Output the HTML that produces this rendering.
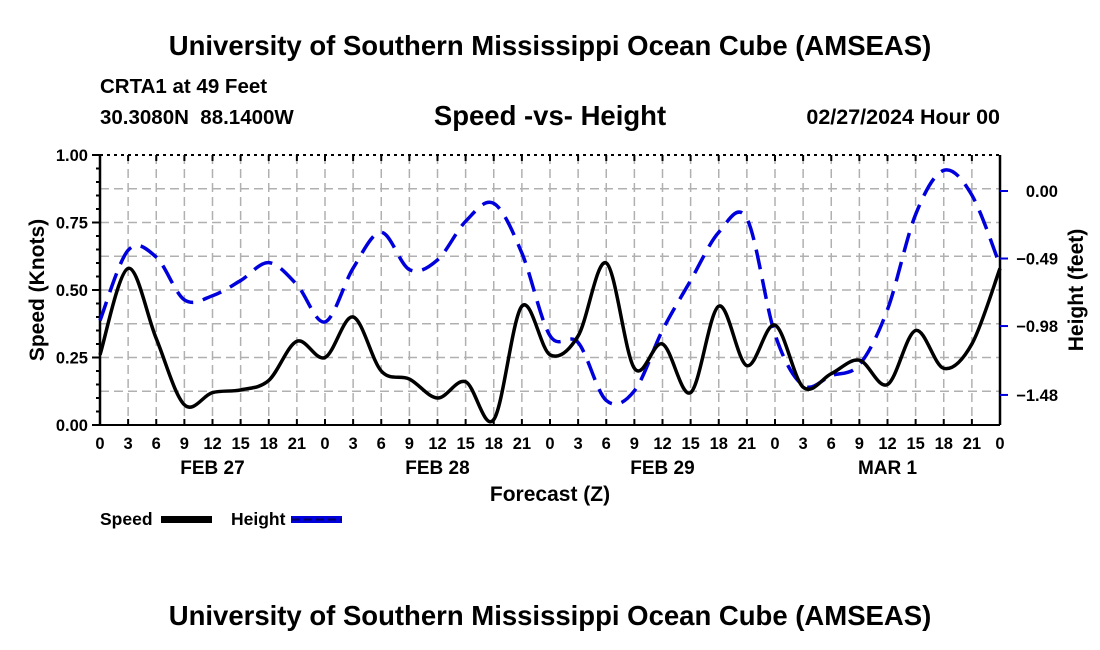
<!DOCTYPE html>
<html><head><meta charset="utf-8"><style>
body{margin:0;background:#fff}
svg{display:block;font-family:"Liberation Sans",sans-serif;font-weight:bold}
</style></head><body>
<svg id="c" width="1100" height="650" viewBox="0 0 1100 650">
<text x="550" y="55" font-size="27.5" text-anchor="middle">University of Southern Mississippi Ocean Cube (AMSEAS)</text>
<text x="100" y="93" font-size="20.5">CRTA1 at 49 Feet</text>
<text x="100" y="124" font-size="20.5" xml:space="preserve">30.3080N  88.1400W</text>
<text x="550" y="125" font-size="27.5" text-anchor="middle">Speed -vs- Height</text>
<text x="1000" y="124" font-size="21.5" text-anchor="end">02/27/2024 Hour 00</text>
<g id="grid"></g>
<g id="axes"></g>
<path id="hgt" fill="none" stroke="#0000dd" stroke-width="3.5" stroke-dasharray="20,10"/>
<path id="spd" fill="none" stroke="#000" stroke-width="3.5"/>
<text x="550" y="501" font-size="21" text-anchor="middle">Forecast (Z)</text>
<text transform="translate(44,290) rotate(-90)" font-size="21" text-anchor="middle">Speed (Knots)</text>
<text transform="translate(1083,290) rotate(-90)" font-size="21" text-anchor="middle">Height (feet)</text>
<g><text x="100" y="525" font-size="17.5">Speed</text><rect x="161" y="516" width="51" height="7" fill="#000"/></g>
<g><text x="231" y="525" font-size="17.5">Height</text><rect x="291" y="516" width="51" height="7" fill="#0000dd"/><line x1="292" y1="519.5" x2="342" y2="519.5" stroke="#000066" stroke-width="2" stroke-dasharray="8,4"/></g>
<text x="550" y="625" font-size="27.5" text-anchor="middle">University of Southern Mississippi Ocean Cube (AMSEAS)</text>
</svg>
<script>
const hours=[0,3,6,9,12,15,18,21,24,27,30,33,36,39,42,45,48,51,54,57,60,63,66,69,72,75,78,81,84,87,90,93,96];
const speed=[0.26,0.58,0.32,0.075,0.12,0.13,0.165,0.31,0.25,0.40,0.20,0.17,0.10,0.16,0.02,0.44,0.26,0.33,0.60,0.21,0.30,0.12,0.44,0.22,0.37,0.14,0.19,0.24,0.15,0.35,0.21,0.30,0.58];
const height=[-0.94,-0.43,-0.48,-0.79,-0.76,-0.65,-0.52,-0.68,-0.95,-0.56,-0.30,-0.57,-0.50,-0.22,-0.09,-0.45,-1.05,-1.10,-1.52,-1.45,-1.01,-0.65,-0.30,-0.20,-1.04,-1.41,-1.34,-1.26,-0.86,-0.17,0.15,-0.03,-0.54];
const xTicks=["0","3","6","9","12","15","18","21"];
const dayLabels=["FEB 27","FEB 28","FEB 29","MAR 1"];
const leftTicks=[0,0.25,0.5,0.75,1];
const rightTicks=[0,-0.49,-0.98,-1.48];
const L=100,R=1000,T=155,B=425;
const x=h=>L+(R-L)*h/96;
const yS=v=>B-(B-T)*v;
const yH=v=>191-137.8*v;
const NS="http://www.w3.org/2000/svg";
function mk(tag,attrs,parent,txt){const e=document.createElementNS(NS,tag);for(const k in attrs)e.setAttribute(k,attrs[k]);if(txt!==undefined)e.textContent=txt;parent.appendChild(e);return e;}
const grid=document.getElementById('grid'),axes=document.getElementById('axes');
for(let i=1;i<32;i++){const l=mk('line',{x1:x(i*3),x2:x(i*3),y1:T,y2:B,stroke:'#b0b0b0','stroke-width':1.5,'stroke-dasharray':'9,5'},grid);

}
for(let i=1;i<8;i++){const v=i*0.125;const l=mk('line',{x1:L,x2:R,y1:yS(v),y2:yS(v),stroke:'#b0b0b0','stroke-width':1.5,'stroke-dasharray':'9,5'},grid);

}
mk('line',{x1:L,x2:R,y1:T,y2:T,stroke:'#000','stroke-width':2,'stroke-dasharray':'3,4'},axes);
mk('line',{x1:L,x2:R,y1:B,y2:B,stroke:'#000','stroke-width':2},axes);
mk('line',{x1:L,x2:L,y1:T,y2:B,stroke:'#000','stroke-width':2.5},axes);
mk('line',{x1:R,x2:R,y1:T,y2:B,stroke:'#000','stroke-width':2.5},axes);
for(let i=0;i<=32;i++){const h=i*3;
mk('line',{x1:x(h),x2:x(h),y1:B,y2:B-6,stroke:'#000','stroke-width':2},axes);
mk('line',{x1:x(h),x2:x(h),y1:T,y2:T+6,stroke:'#000','stroke-width':2},axes);
const t=mk('text',{x:x(h),y:B+24,'font-size':16.5,'text-anchor':'middle'},axes,xTicks[i%8]);

}
dayLabels.forEach((d,i)=>{const t=mk('text',{x:x(12+24*i),y:B+49,'font-size':19,'text-anchor':'middle'},axes,d);

});
for(let i=0;i<=20;i++){const v=i*0.05;mk('line',{x1:L-(i%5?4:8),x2:L,y1:yS(v),y2:yS(v),stroke:'#000','stroke-width':2},axes);}
leftTicks.forEach(v=>{const t=mk('text',{x:L-12,y:yS(v)+6,'font-size':16.5,'text-anchor':'end'},axes,v.toFixed(2));

});
rightTicks.forEach(v=>{mk('line',{x1:R,x2:R+8,y1:yH(v),y2:yH(v),stroke:'#0000dd','stroke-width':2},axes);
const t=mk('text',{x:R+58,y:yH(v)+6,'font-size':16.5,'text-anchor':'end'},axes,v.toFixed(2).replace('-','\u2212'));

});
function smooth(pts){let d='M'+pts[0][0]+','+pts[0][1];for(let i=0;i<pts.length-1;i++){const p0=pts[Math.max(0,i-1)],p1=pts[i],p2=pts[i+1],p3=pts[Math.min(pts.length-1,i+2)];
d+=` C${p1[0]+(p2[0]-p0[0])/6},${p1[1]+(p2[1]-p0[1])/6} ${p2[0]-(p3[0]-p1[0])/6},${p2[1]-(p3[1]-p1[1])/6} ${p2[0]},${p2[1]}`;}return d;}
document.getElementById('spd').setAttribute('d',smooth(hours.map((h,i)=>[x(h),yS(speed[i])])));
document.getElementById('hgt').setAttribute('d',smooth(hours.map((h,i)=>[x(h),yH(height[i])])));
</script>
</body></html>
